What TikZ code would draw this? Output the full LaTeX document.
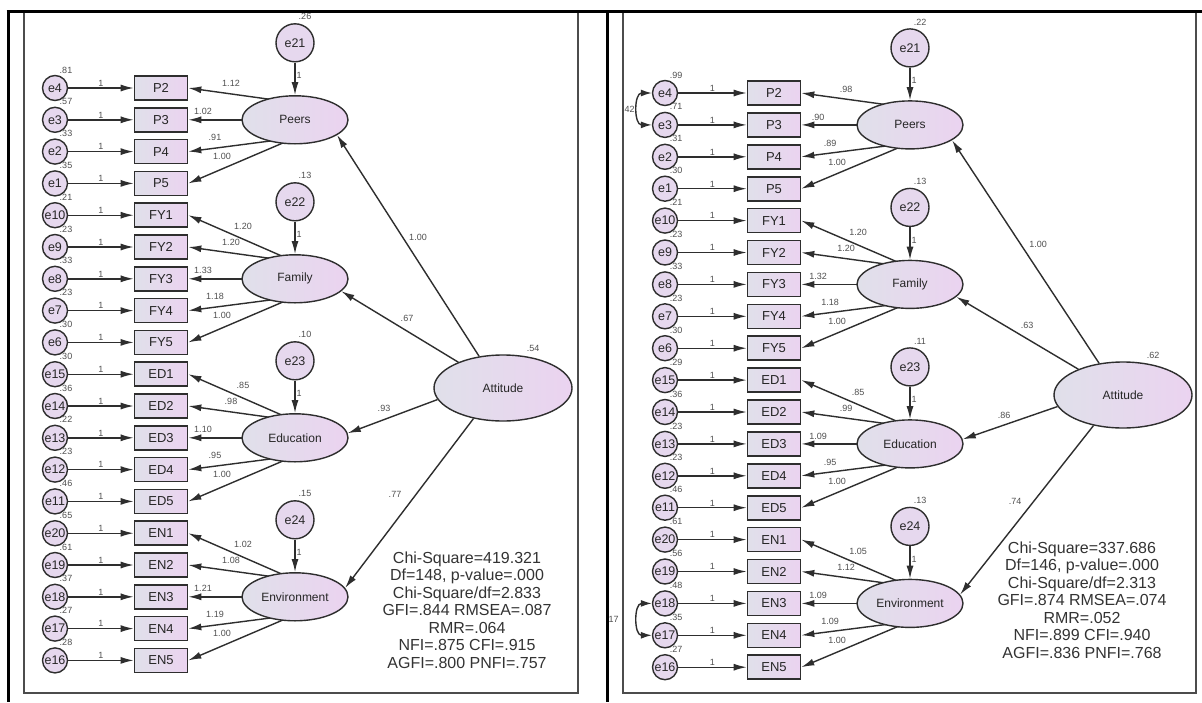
\documentclass[tikz,border=0pt]{standalone}
\usepackage{fontspec}
\setmainfont{Liberation Sans}
\usetikzlibrary{arrows.meta,calc,shapes.geometric}
\pgfdeclarelayer{bg}
\pgfsetlayers{bg,main}

\definecolor{semline}{HTML}{2E2E2E}
\definecolor{semleft}{HTML}{E0E0EA}
\definecolor{semright}{HTML}{EBD3F0}
\definecolor{errfill}{HTML}{E6D8EE}
\definecolor{numgray}{HTML}{505050}

% one AMOS panel: #1 prefix, #2 rows, #3 factors, #4 paths, #5 variance of Attitude, #6 fit text
\newcommand{\sempanel}[6]{%
  \foreach \lt/\r/\dn/\dv in {#3} {
    \node[latent] (#1\lt) at (\plx,{\pyo+(\r-1)*\pys}) {\lt};
    \foreach \k/\o in {1/-17,2/-17,3/0,4/18,5/18}
      \coordinate (#1\lt\k) at ($(#1\lt)+(0,\o)$);
    \node[dist] (#1\dn) at ($(#1\lt)+(0,-77)$) {\dn};
    \node[num] at ($(#1\dn)+(10,-26)$) {\dv};
    \draw[semarrow] (#1\dn) -- node[num,right,pos=0.4] {1} (#1\lt);
  }
  \node[latent,minimum width=138pt,minimum height=66pt] (#1Attitude) at (\pax,\pay) {Attitude};
  \node[num] at ($(#1Attitude)+(30,-40)$) {#5};
  \foreach \lt/\aa/\la/\dx/\dy/\v in {#4} {
    \draw[semarrow] (#1Attitude.\aa) -- (#1\lt.\la);
    \node[num] at ($(#1Attitude)+(\dx,\dy)$) {\v};
  }
  \foreach \bn/\en/\ev/\ld/\s/\lt [count=\i] in {#2} {
    \pgfmathsetmacro\yy{\pyo+(\i-1)*\pys}
    \pgfmathsetmacro\ldx{{-52,-64,-92,-80,-73}[\s-1]}
    \pgfmathsetmacro\ldy{{-52,-36,-8,18,37}[\s-1]}
    \node[obs] (#1\bn) at (\pbx,\yy) {\bn};
    \node[errc] (#1\en) at (\pex,\yy) {\en};
    \node[num] at ($(#1\en)+(11,-18)$) {\ev};
    \draw[semarrow] (#1\en) -- node[num,above] {1} (#1\bn);
    \begin{pgfonlayer}{bg}
      \draw[semarrow] (#1\lt\s) -- (#1\bn.east);
    \end{pgfonlayer}
    \node[num] at ($(#1\lt)+(\ldx,\ldy)$) {\ld};
  }
  \node[fitbox] (#1fit) at (\pfx,\pfy) {#6};
}

\begin{document}
\begin{tikzpicture}[x=1pt,y=-1pt,
  semarrow/.style={draw=semline,line width=1.4pt,-{Latex[length=13pt,width=7pt]}},
  covarrow/.style={draw=semline,line width=1.4pt,{Latex[length=11pt,width=7pt]}-{Latex[length=11pt,width=7pt]}},
  latent/.style={ellipse,draw=semline,line width=1.4pt,minimum width=106pt,minimum height=48pt,
    left color=semleft,right color=semright,text=black!85,font=\fontsize{12}{14}\selectfont},
  obs/.style={rectangle,draw=semline,line width=1.6pt,minimum width=53pt,minimum height=24pt,
    left color=semleft,right color=semright,text=black!85,font=\fontsize{13}{15}\selectfont},
  errc/.style={circle,draw=semline,line width=1.4pt,minimum size=25pt,inner sep=0pt,
    fill=errfill,text=black!85,font=\fontsize{12.5}{14}\selectfont},
  dist/.style={errc,minimum size=38pt},
  num/.style={inner sep=1pt,text=numgray,font=\fontsize{9}{10}\selectfont},
  fitbox/.style={align=center,text=black!80,font=\fontsize{16}{17.5}\selectfont}]

  \begin{pgfonlayer}{bg}
    \fill[white] (0,0) rectangle (1202,702);
  \end{pgfonlayer}
  \useasboundingbox (0,0) rectangle (1202,702);

  % left panel
  \def\pex{55}\def\pbx{161}\def\plx{295}\def\pax{503}\def\pay{388}
  \def\pyo{88}\def\pys{31.8}\def\pfx{467}\def\pfy{610}
  \sempanel{A}{P2/e4/.81/1.12/2/Peers, P3/e3/.57/1.02/3/Peers, P4/e2/.33/.91/4/Peers, P5/e1/.35/1.00/5/Peers,
    FY1/e10/.21/1.20/1/Family, FY2/e9/.23/1.20/2/Family, FY3/e8/.33/1.33/3/Family, FY4/e7/.23/1.18/4/Family, FY5/e6/.30/1.00/5/Family,
    ED1/e15/.30/.85/1/Education, ED2/e14/.36/.98/2/Education, ED3/e13/.22/1.10/3/Education, ED4/e12/.23/.95/4/Education, ED5/e11/.46/1.00/5/Education,
    EN1/e20/.65/1.02/1/Environment, EN2/e19/.61/1.08/2/Environment, EN3/e18/.37/1.21/3/Environment, EN4/e17/.27/1.19/4/Environment, EN5/e16/.28/1.00/5/Environment}
    {Peers/2/e21/.26, Family/7/e22/.13, Education/12/e23/.10, Environment/17/e24/.15}
    {Peers/127/340/-85/-151/1.00, Family/150/345/-96/-70/.67, Education/190/5/-119/20/.93, Environment/226/10/-108/106/.77}
    {.54}
    {Chi-Square=419.321\\Df=148, p-value=.000\\Chi-Square/df=2.833\\GFI=.844 RMSEA=.087\\RMR=.064\\NFI=.875 CFI=.915\\AGFI=.800 PNFI=.757}

  % right panel
  \def\pex{665}\def\pbx{774}\def\plx{910}\def\pax{1123}\def\pay{395}
  \def\pyo{93}\def\pys{31.9}\def\pfx{1082}\def\pfy{600}
  \sempanel{B}{P2/e4/.99/.98/2/Peers, P3/e3/.71/.90/3/Peers, P4/e2/.31/.89/4/Peers, P5/e1/.30/1.00/5/Peers,
    FY1/e10/.21/1.20/1/Family, FY2/e9/.23/1.20/2/Family, FY3/e8/.33/1.32/3/Family, FY4/e7/.23/1.18/4/Family, FY5/e6/.30/1.00/5/Family,
    ED1/e15/.29/.85/1/Education, ED2/e14/.36/.99/2/Education, ED3/e13/.23/1.09/3/Education, ED4/e12/.23/.95/4/Education, ED5/e11/.46/1.00/5/Education,
    EN1/e20/.61/1.05/1/Environment, EN2/e19/.56/1.12/2/Environment, EN3/e18/.48/1.09/3/Environment, EN4/e17/.35/1.09/4/Environment, EN5/e16/.27/1.00/5/Environment}
    {Peers/2/e21/.22, Family/7/e22/.13, Education/12/e23/.11, Environment/17/e24/.13}
    {Peers/127/340/-85/-151/1.00, Family/150/345/-96/-70/.63, Education/190/5/-119/20/.86, Environment/226/10/-108/106/.74}
    {.62}
    {Chi-Square=337.686\\Df=146, p-value=.000\\Chi-Square/df=2.313\\GFI=.874 RMSEA=.074\\RMR=.052\\NFI=.899 CFI=.940\\AGFI=.836 PNFI=.768}

  % correlated errors
  \draw[covarrow] (Be4.west) .. controls +(-18,0) and +(-18,0) .. node[num,left,xshift=-2pt] {.42} (Be3.west);
  \draw[covarrow] (Be18.west) .. controls +(-18,0) and +(-18,0) .. node[num,left,xshift=-18pt] {17} (Be17.west);

  % table frame
  \draw[gray!60!black,line width=1.8pt] (24,11) rectangle (578,693);
  \draw[gray!60!black,line width=1.8pt] (623,11) rectangle (1196,693);
  \draw[line width=3pt] (6.5,11) -- (1202,11);
  \draw[line width=3pt] (8,11) -- (8,702);
  \draw[line width=3pt] (607,11) -- (607,702);
\end{tikzpicture}
\end{document}
